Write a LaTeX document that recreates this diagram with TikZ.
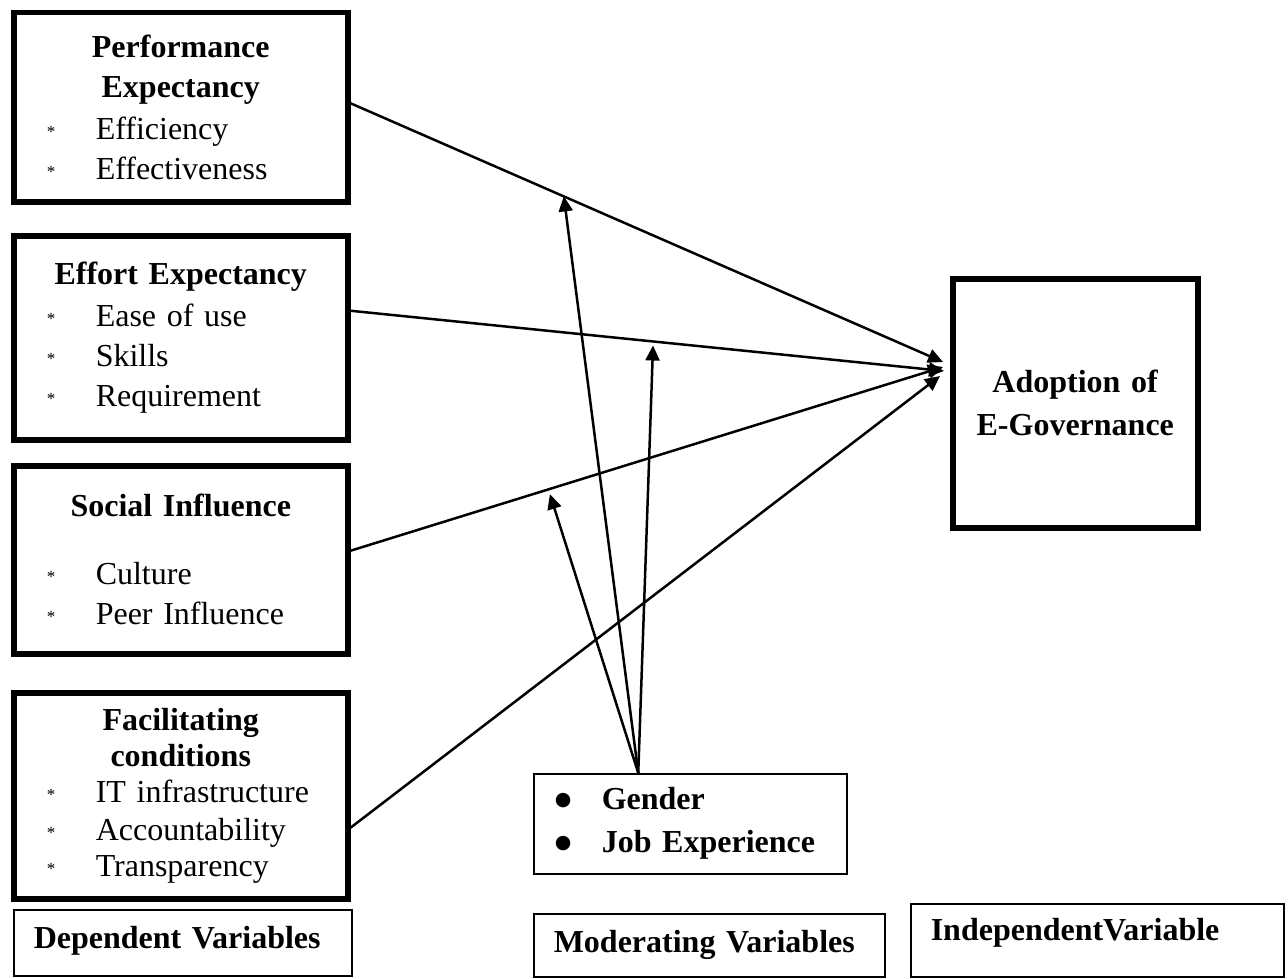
\documentclass[tikz,border=0pt]{standalone}
\usepackage{fontspec}
\setmainfont{Liberation Serif}
\newfontfamily\symfont{DejaVu Sans}
\usetikzlibrary{arrows.meta,positioning}

\newcommand{\itm}[1]{\makebox[334pt][l]{\hspace*{33pt}\makebox[49pt][l]{\raisebox{2pt}{\fontsize{17}{17}\selectfont *}}#1}}
\newcommand{\modi}[1]{\makebox[47pt][l]{\raisebox{4pt}{\symfont\fontsize{19}{19}\selectfont ●}}\textbf{#1}}

\begin{document}
\begin{tikzpicture}
		[x=1pt, y=-1pt,
		font=\fontsize{32}{40}\selectfont,
		block/.style ={rectangle, draw=black, line width=5.5pt, text width=334pt, align=center, inner sep=0pt, anchor=north west},
		modbox/.style ={rectangle, draw=black, line width=1.5pt, text width=271pt, align=left, inner xsep=21pt, inner ysep=0pt, minimum height=100pt, anchor=north west},
		tag/.style ={rectangle, draw=black, line width=1.5pt, align=left, inner xsep=20pt, inner ysep=0pt, anchor=north west, font=\fontsize{32}{40}\selectfont\bfseries},
		line/.style ={draw, line width=2.5pt, -{Triangle[length=15pt,width=14pt]}},
		]
		\useasboundingbox (0,0) rectangle (1288,979);

		\draw (11,10) node[block, minimum height=189pt] (PE) {\textbf{Performance}\\\textbf{Expectancy}\\[2pt]\itm{Efficiency}\\\itm{Effectiveness}};
		\draw (11,233) node[block, minimum height=204pt] (EE) {\textbf{Effort Expectancy}\\[2pt]\itm{Ease of use}\\\itm{Skills}\\\itm{Requirement}};
		\draw (11,463) node[block, minimum height=188pt] (SI) {\textbf{Social Influence}\\[28pt]\itm{Culture}\\\itm{Peer Influence}};
		\draw (11,690) node[block, minimum height=206pt, font=\fontsize{32}{36}\selectfont] (FC) {\textbf{Facilitating}\\\textbf{conditions}\\\itm{IT infrastructure}\\[2pt]\itm{Accountability}\\\itm{Transparency}};
		\draw (950,276) node[block, text width=245pt, minimum height=249pt] (AE) {\textbf{Adoption of}\\[3pt]\textbf{E-Governance}};
		\draw (533,773) node[modbox] (MB) {\modi{Gender}\\[3pt]\modi{Job Experience}};

		\draw (13,909) node[tag, text width=298pt, text height=39pt, text depth=27pt] (DV) {Dependent Variables};
		\draw (533,913) node[tag, text width=311pt, text height=39pt, text depth=24pt] (MV) {Moderating Variables};
		\draw (910,903) node[tag, text width=333pt, text height=37pt, text depth=36pt] (IV) {IndependentVariable};

		% arrow tips at the outcome box
		\coordinate (T1) at (943,362);
		\coordinate (T2) at (944,371);
		\coordinate (T3) at (943,367);
		\coordinate (T4) at (940,376);

		\draw[line] ([yshift=4pt]PE.east) -- coordinate[pos=0.36] (M1) (T1);
		\draw[line] ([yshift=27pt]EE.east) -- coordinate[pos=0.51] (M2) (T2);
		\draw[line] ([yshift=9pt]SI.east) -- coordinate[pos=0.334] (M3) (T3);
		\draw[line] ([yshift=-32pt]FC.east) -- (T4);

		\coordinate (S) at ([xshift=-52pt]MB.north);
		\path
		(S) edge[line] (M1)
		(S) edge[line, shorten >=4pt] (M2)
		(S) edge[line, shorten >=5pt] (M3);

	\end{tikzpicture}
\end{document}
